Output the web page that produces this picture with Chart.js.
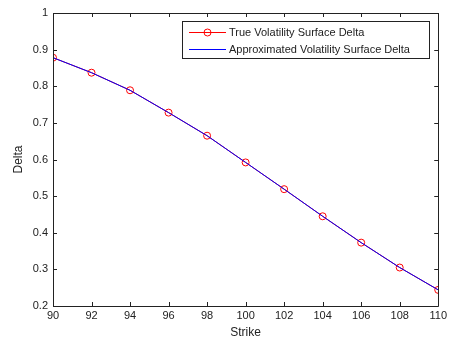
<!DOCTYPE html>
<html>
<head>
<meta charset="utf-8">
<script src="https://cdn.jsdelivr.net/npm/chart.js@4/dist/chart.umd.min.js"></script>
<style>
html,body{margin:0;padding:0;background:#fff;}
#wrap{width:450px;height:345px;}
</style>
</head>
<body>
<div id="wrap"><canvas id="c" width="450" height="345"></canvas></div>
<script>
const strikes = [90, 92, 94, 96, 98, 100, 102, 104, 106, 108, 110];
const trueDelta = [0.878, 0.837, 0.789, 0.728, 0.665, 0.592, 0.519, 0.445, 0.373, 0.305, 0.244];
const approxDelta = [0.878, 0.837, 0.789, 0.728, 0.665, 0.592, 0.519, 0.445, 0.373, 0.305, 0.244];
const xTicks = [90, 92, 94, 96, 98, 100, 102, 104, 106, 108, 110];
const yTicks = [0.2, 0.3, 0.4, 0.5, 0.6, 0.7, 0.8, 0.9, 1];
const seriesNames = ['True Volatility Surface Delta', 'Approximated Volatility Surface Delta'];

const FONT = 'Liberation Sans, Arial, sans-serif';

const boxPlugin = {
  id: 'matlabBox',
  afterDraw(chart) {
    const ctx = chart.ctx;
    const a = chart.chartArea;
    const xs = chart.scales.x, ys = chart.scales.y;
    ctx.save();
    ctx.strokeStyle = '#222';
    ctx.lineWidth = 1;
    ctx.beginPath();
    ctx.rect(Math.round(a.left) + 0.5, Math.round(a.top) + 0.5, Math.round(a.right - a.left), Math.round(a.bottom - a.top));
    ctx.stroke();
    const tl = 4;
    ctx.beginPath();
    xTicks.forEach(v => {
      const px = Math.round(xs.getPixelForValue(v)) + 0.5;
      ctx.moveTo(px, a.bottom); ctx.lineTo(px, a.bottom - tl);
      ctx.moveTo(px, a.top); ctx.lineTo(px, a.top + tl);
    });
    yTicks.forEach(v => {
      const py = Math.round(ys.getPixelForValue(v)) + 0.5;
      ctx.moveTo(a.left, py); ctx.lineTo(a.left + tl, py);
      ctx.moveTo(a.right, py); ctx.lineTo(a.right - tl, py);
    });
    ctx.stroke();
    // legend
    const lx = 182.5, ly = 21.5, lw = 247, lh = 37;
    ctx.fillStyle = '#fff';
    ctx.fillRect(lx, ly, lw, lh);
    ctx.strokeStyle = '#222';
    ctx.strokeRect(lx, ly, lw, lh);
    const ds = chart.data.datasets;
    const rows = [32.5, 49.5];
    ds.forEach((d, i) => {
      const y = rows[i];
      ctx.strokeStyle = d.borderColor;
      ctx.lineWidth = 1;
      ctx.beginPath(); ctx.moveTo(189, y); ctx.lineTo(226, y); ctx.stroke();
      if (d.pointRadius > 0) {
        ctx.beginPath(); ctx.arc(207.5, y, 3.5, 0, Math.PI * 2);
        ctx.strokeStyle = d.pointBorderColor; ctx.stroke();
      }
      ctx.fillStyle = '#222';
      ctx.font = '11px ' + FONT;
      ctx.textBaseline = 'middle';
      ctx.textAlign = 'left';
      ctx.fillText(d.label, 229, y);
    });
    ctx.restore();
  }
};

new Chart(document.getElementById('c'), {
  type: 'line',
  data: {
    datasets: [
      {
        label: seriesNames[0],
        data: strikes.map((s, i) => ({x: s, y: trueDelta[i]})),
        borderColor: '#ff0000',
        backgroundColor: 'rgba(0,0,0,0)',
        pointBorderColor: '#ff0000',
        pointBackgroundColor: 'rgba(0,0,0,0)',
        pointRadius: 3.5,
        pointBorderWidth: 1,
        borderWidth: 1,
        tension: 0,
        order: 2
      },
      {
        label: seriesNames[1],
        data: strikes.map((s, i) => ({x: s, y: approxDelta[i]})),
        borderColor: '#0000ff',
        backgroundColor: 'rgba(0,0,0,0)',
        pointRadius: 0,
        borderWidth: 1,
        tension: 0,
        order: 1
      }
    ]
  },
  plugins: [boxPlugin],
  options: {
    responsive: false,
    animation: false,
    devicePixelRatio: 1,
    layout: {padding: {top: 13, right: 11, left: 0, bottom: 0}},
    plugins: {legend: {display: false}, tooltip: {enabled: false}},
    scales: {
      x: {
        type: 'linear', min: 90, max: 110,
        afterBuildTicks(s) { s.ticks = xTicks.map(v => ({value: v})); },
        afterFit(s) { s.height = 39; },
        grid: {display: false, drawTicks: false},
        border: {display: false},
        ticks: {color: '#222', font: {family: FONT, size: 11}, padding: 3, maxRotation: 0, autoSkip: false},
        title: {display: true, text: 'Strike', color: '#222', font: {family: FONT, size: 12}, padding: {top: 0, bottom: 5}}
      },
      y: {
        type: 'linear', min: 0.2, max: 1,
        afterBuildTicks(s) { s.ticks = yTicks.map(v => ({value: v})); },
        afterFit(s) { s.width = 53; },
        grid: {display: false, drawTicks: false},
        border: {display: false},
        ticks: {color: '#222', font: {family: FONT, size: 11}, padding: 5, autoSkip: false,
          callback: v => String(Math.round(v * 10) / 10)},
        title: {display: true, text: 'Delta', color: '#222', font: {family: FONT, size: 12}, padding: {top: 11, bottom: 0}}
      }
    }
  }
});
</script>
</body>
</html>
